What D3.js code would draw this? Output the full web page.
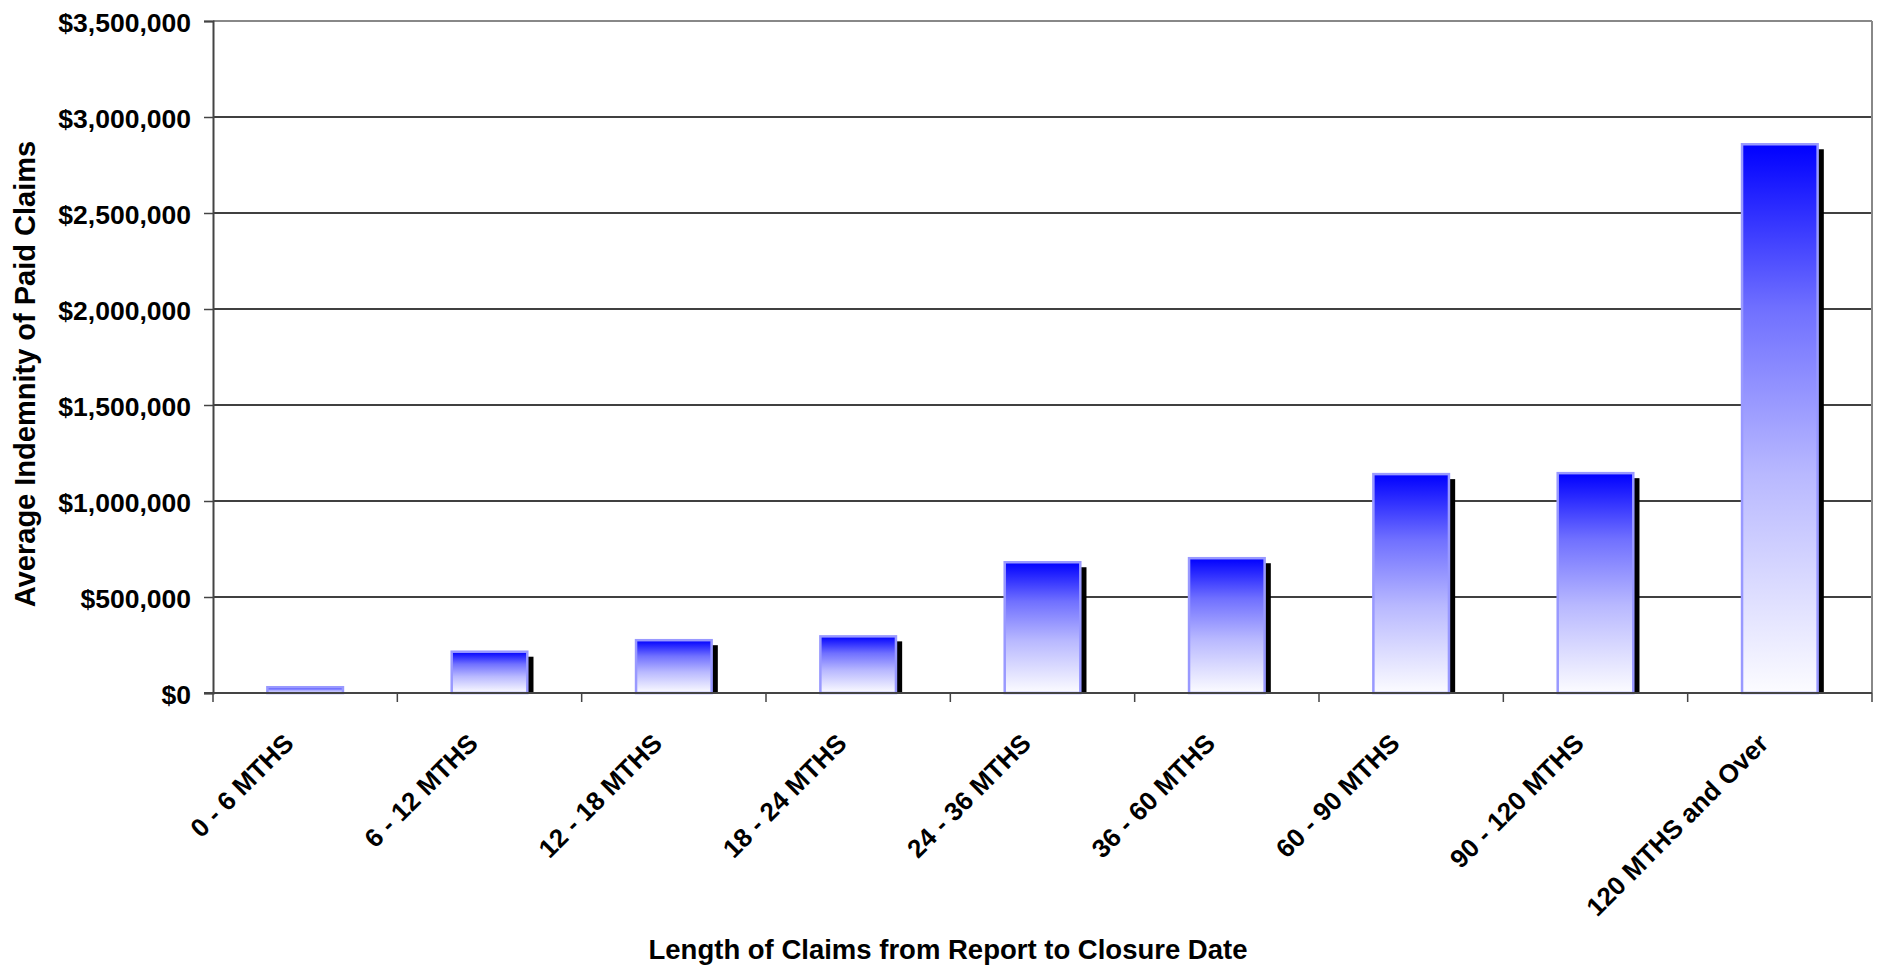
<!DOCTYPE html>
<html>
<head>
<meta charset="utf-8">
<script src="https://cdn.jsdelivr.net/npm/d3@7"></script>
<style>
    body { margin: 0; background: #fff; }
    svg { display: block; font-family: "Liberation Sans", Arial, sans-serif; font-weight: bold; }
</style>
</head>
<body>
<div id="chart"></div>
<script>
let categories = ["0 - 6 MTHS", "6 - 12 MTHS", "12 - 18 MTHS", "18 - 24 MTHS", "24 - 36 MTHS",
                  "36 - 60 MTHS", "60 - 90 MTHS", "90 - 120 MTHS", "120 MTHS and Over"];
let avgIndemnity = [30000, 215000, 275000, 295000, 681000, 702000, 1140000, 1145000, 2858000];
let yTicks = [0, 500000, 1000000, 1500000, 2000000, 2500000, 3000000, 3500000];

let data = categories.map((c, i) => ({ cat: c, value: avgIndemnity[i] }));

let margin = { top: 21, left: 213, right: 5, bottom: 276 };
let totalW = 1877, totalH = 969;
let width = totalW - margin.left - margin.right;
let height = totalH - margin.top - margin.bottom;

// bars sit centred in equal slots, ~41% of the slot wide
let x = d3.scaleBand()
    .domain(categories)
    .range([0, width])
    .paddingInner(0.59)
    .paddingOuter(0.295);

let slot = d3.scaleBand()
    .domain(categories)
    .range([0, width]);

let y = d3.scaleLinear()
    .domain([0, 3500000])
    .range([height, 0]);

let fmt = d => "$" + d3.format(",")(d);

let svg = d3.select("#chart").append("svg")
    .attr("width", totalW)
    .attr("height", totalH);

let defs = svg.append("defs");
let grad = defs.append("linearGradient")
    .attr("id", "barFill")
    .attr("x1", 0).attr("y1", 0)
    .attr("x2", 0).attr("y2", 1);
[[0, "#0000ff"], [0.3, "#7070ff"], [0.6, "#b8b8ff"], [1, "#fcfcff"]].forEach(s => {
    grad.append("stop").attr("offset", s[0]).attr("stop-color", s[1]);
});

let g = svg.append("g")
    .attr("transform", "translate(" + margin.left + "," + margin.top + ")");

// gridlines
g.append("g")
    .selectAll("line")
    .data(yTicks.filter(d => d > 0 && d < 3500000))
    .enter().append("line")
    .attr("x1", 0).attr("x2", width)
    .attr("y1", d => y(d)).attr("y2", d => y(d))
    .attr("stroke", "#000")
    .attr("stroke-width", 1.3);

// top and right frame
g.append("line")
    .attr("x1", 0).attr("x2", width)
    .attr("y1", 0).attr("y2", 0)
    .attr("stroke", "#888").attr("stroke-width", 2);
g.append("line")
    .attr("x1", width).attr("x2", width)
    .attr("y1", 0).attr("y2", height)
    .attr("stroke", "#888").attr("stroke-width", 2);

let bw = x.bandwidth();
let sw = 2.5;

// shadows
g.append("g")
    .selectAll("rect")
    .data(data)
    .enter().append("rect")
    .attr("x", d => x(d.cat) + 6.2)
    .attr("y", d => Math.min(y(d.value) + 5, height))
    .attr("width", bw)
    .attr("height", d => Math.max(0, height - y(d.value) - 5))
    .attr("fill", "#000");

// bars
g.append("g")
    .selectAll("rect")
    .data(data)
    .enter().append("rect")
    .attr("x", d => x(d.cat))
    .attr("y", d => y(d.value))
    .attr("width", bw)
    .attr("height", d => height - y(d.value))
    .attr("fill", "url(#barFill)")
    .attr("stroke", "#9999ff")
    .attr("stroke-width", sw);

// y axis
let yAxis = d3.axisLeft(y)
    .tickValues(yTicks)
    .tickSize(9)
    .tickPadding(13)
    .tickFormat(fmt);

let yAxisGroup = g.append("g")
    .attr("class", "y-axis axis")
    .call(yAxis);
yAxisGroup.select(".domain").attr("stroke", "#444").attr("stroke-width", 2);
yAxisGroup.selectAll(".tick line").attr("stroke", "#444").attr("stroke-width", 1.5);
yAxisGroup.selectAll(".tick text")
    .attr("font-size", 26.5)
    .attr("font-weight", "bold")
    .attr("fill", "#000")
    .attr("dy", "0.4em");

// x axis: ticks at slot boundaries
let bounds = categories.map(c => slot(c)).concat([width]);
let xAxisGroup = g.append("g")
    .attr("class", "x-axis axis")
    .attr("transform", "translate(0," + height + ")");

xAxisGroup.append("line")
    .attr("x1", -9).attr("x2", width)
    .attr("stroke", "#444").attr("stroke-width", 2);
xAxisGroup.selectAll(".xtick")
    .data(bounds)
    .enter().append("line")
    .attr("class", "xtick")
    .attr("x1", d => d).attr("x2", d => d)
    .attr("y1", 0).attr("y2", 9)
    .attr("stroke", "#444").attr("stroke-width", 1.5);

xAxisGroup.selectAll(".xlabel")
    .data(categories)
    .enter().append("text")
    .attr("class", "xlabel")
    .attr("text-anchor", "end")
    .attr("font-size", 26)
    .attr("fill", "#000")
    .attr("transform", d => "translate(" + (slot(d) + slot.bandwidth() / 2 - 10) + ",52) rotate(-45)")
    .text(d => d);

// axis titles
svg.append("text")
    .attr("text-anchor", "middle")
    .attr("font-size", 29)
    .attr("transform", "translate(35," + 374 + ") rotate(-90)")
    .text("Average Indemnity of Paid Claims");

svg.append("text")
    .attr("text-anchor", "middle")
    .attr("font-size", 27.5)
    .attr("x", 948)
    .attr("y", 959)
    .text("Length of Claims from Report to Closure Date");
</script>
</body>
</html>
